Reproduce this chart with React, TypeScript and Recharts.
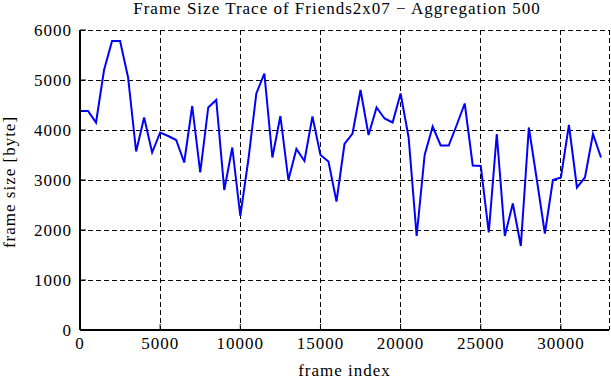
import { LineChart, Line, XAxis, YAxis, CartesianGrid } from 'recharts'

const frameIndex = [
  0, 500, 1000, 1500, 2000, 2500, 3000, 3500, 4000, 4500,
  5000, 5500, 6000, 6500, 7000, 7500, 8000, 8500, 9000, 9500,
  10000, 10500, 11000, 11500, 12000, 12500, 13000, 13500, 14000, 14500,
  15000, 15500, 16000, 16500, 17000, 17500, 18000, 18500, 19000, 19500,
  20000, 20500, 21000, 21500, 22000, 22500, 23000, 23500, 24000, 24500,
  25000, 25500, 26000, 26500, 27000, 27500, 28000, 28500, 29000, 29500,
  30000, 30500, 31000, 31500, 32000, 32500,
]

const frameSize = [
  4380, 4380, 4150, 5200, 5780, 5780, 5050, 3570, 4250, 3550,
  3950, 3880, 3800, 3350, 4480, 3150, 4450, 4600, 2800, 3650,
  2280, 3400, 4730, 5130, 3450, 4280, 3000, 3620, 3380, 4270,
  3500, 3370, 2570, 3720, 3930, 4800, 3900, 4450, 4230, 4150,
  4730, 3850, 1880, 3500, 4070, 3690, 3690, 4100, 4530, 3290,
  3280, 1950, 3920, 1880, 2530, 1680, 4050, 3000, 1930, 3000,
  3050, 4100, 2850, 3050, 3920, 3450,
]

const xTicks = [0, 5000, 10000, 15000, 20000, 25000, 30000]
const yTicks = [0, 1000, 2000, 3000, 4000, 5000, 6000]

const data = frameIndex.map((x, i) => ({ x, size: frameSize[i] }))

const font = '"Liberation Serif", "DejaVu Serif", serif'
const tickStyle = { fontSize: 17, fill: '#000', fontFamily: font, letterSpacing: 1 }
const blank = () => ''

export default function App() {
  return (
    <div style={{ position: 'absolute', left: 0, top: 0, width: 611, height: 380, background: '#fff', fontFamily: font }}>
      <div
        style={{
          position: 'absolute', left: 40, width: 594, top: 0, textAlign: 'center',
          fontSize: 17, lineHeight: '18px', letterSpacing: 1, whiteSpace: 'nowrap',
        }}
      >
        Frame Size Trace of Friends2x07 − Aggregation 500
      </div>
      <div
        style={{
          position: 'absolute', left: 10, top: 182, fontSize: 17, whiteSpace: 'nowrap', letterSpacing: 1,
          transform: 'translate(-50%, -50%) rotate(-90deg)',
        }}
      >
        frame size [byte]
      </div>
      <LineChart width={611} height={380} data={data} margin={{ top: 30, right: 2, bottom: 0, left: 0 }}>
        <CartesianGrid stroke="#000" strokeDasharray="5 3" xAxisId="b" yAxisId="l" shapeRendering="crispEdges" />
        <XAxis
          xAxisId="b"
          dataKey="x"
          type="number"
          domain={[0, 33000]}
          ticks={xTicks}
          height={50}
          tick={tickStyle}
          tickSize={-6}
          tickMargin={13}
          axisLine={{ stroke: '#000', strokeWidth: 2 }}
          tickLine={{ stroke: '#000' }}
          label={{ value: 'frame index', position: 'insideBottom', offset: 4, fontSize: 17, fill: '#000', fontFamily: font, letterSpacing: 1 }}
        />
        <XAxis
          xAxisId="t"
          orientation="top"
          dataKey="x"
          type="number"
          domain={[0, 33000]}
          ticks={xTicks}
          height={0}
          tickFormatter={blank}
          tickSize={-6}
          axisLine={{ stroke: '#000', strokeWidth: 2 }}
          tickLine={{ stroke: '#000' }}
        />
        <YAxis
          yAxisId="l"
          type="number"
          domain={[0, 6000]}
          ticks={yTicks}
          width={80}
          tick={tickStyle}
          tickSize={-6}
          tickMargin={14}
          axisLine={{ stroke: '#000', strokeWidth: 2 }}
          tickLine={{ stroke: '#000' }}
        />
        <YAxis
          yAxisId="r"
          orientation="right"
          type="number"
          domain={[0, 6000]}
          ticks={yTicks}
          width={0}
          tickFormatter={blank}
          tickSize={-6}
          axisLine={{ stroke: '#000', strokeWidth: 2 }}
          tickLine={{ stroke: '#000' }}
        />
        <Line
          xAxisId="b"
          yAxisId="l"
          type="linear"
          dataKey="size"
          stroke="#0000ff"
          strokeWidth={2}
          dot={false}
          isAnimationActive={false}
        />
      </LineChart>
    </div>
  )
}
